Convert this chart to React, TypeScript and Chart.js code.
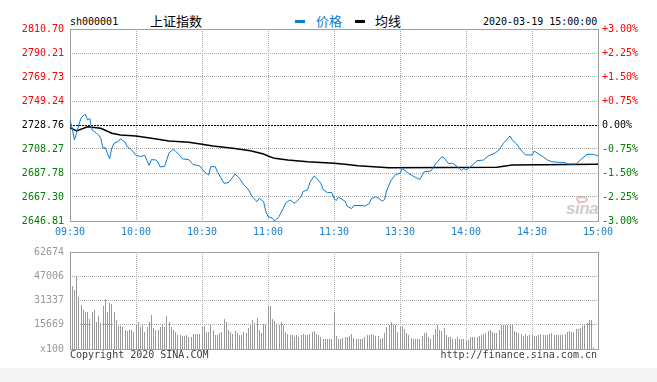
import React, { useEffect, useRef } from 'react';
import { Chart, registerables } from 'chart.js';

Chart.register(...registerables);

// ---------- data ----------
const PREV_CLOSE = 2728.76;
const priceTickValues = [2646.81, 2667.3, 2687.78, 2708.27, 2728.76, 2749.24, 2769.73, 2790.21, 2810.7];
const pctTickLabels = ['-3.00%', '-2.25%', '-1.50%', '-0.75%', '0.00%', '+0.75%', '+1.50%', '+2.25%', '+3.00%'];
const timeTickMinutes = [0, 30, 60, 90, 120, 150, 180, 210, 240];
const timeLabels = ['09:30', '10:00', '10:30', '11:00', '11:30', '13:30', '14:00', '14:30', '15:00'];
const volTickValues = [0, 15669, 31337, 47006, 62674];
const volTickLabels = ['x100', '15669', '31337', '47006', '62674'];

// price line: minute index (0 = 09:30, 120 = 11:30/13:00, 240 = 15:00) and price
const priceMinutes = [
  0, 1, 2, 3, 4, 5, 6, 7, 8, 9, 10, 11, 12, 13, 14, 15, 16, 17, 18, 19, 20, 22, 23, 25, 26, 28, 30, 32, 34, 35,
  36, 37, 39, 40, 41, 43, 44, 45, 47, 48, 50, 51, 54, 56, 58, 59, 61, 63, 64, 66, 67, 70, 72, 73, 75, 77, 79, 81,
  83, 85, 86, 88, 89, 90, 92, 93, 95, 97, 98, 100, 102, 103, 105, 106, 108, 109, 111, 112, 114, 115, 117, 119,
  120, 121, 122, 125, 126, 128, 129, 133, 134, 136, 137, 139, 140, 142, 143, 144, 146, 148, 150, 151, 153, 154,
  156, 159, 161, 164, 166, 169, 170, 172, 174, 176, 178, 179, 180, 183, 185, 188, 190, 193, 195, 197, 198, 200,
  201, 203, 205, 207, 210, 211, 213, 215, 217, 219, 222, 225, 226, 230, 232, 235, 238, 240,
];
const prices = [
  2733.0, 2726.0, 2716.0, 2721.7, 2728.8, 2734.5, 2736.7, 2737.9, 2733.0, 2734.5, 2724.5, 2723.1, 2721.7, 2720.3,
  2717.4, 2709.0, 2709.5, 2704.7, 2699.9, 2709.0, 2713.2, 2714.7, 2716.9, 2714.1, 2710.3, 2707.6, 2702.8, 2701.9,
  2702.8, 2698.3, 2694.3, 2699.2, 2698.9, 2697.2, 2692.9, 2693.5, 2699.2, 2704.9, 2708.2, 2706.2, 2702.8, 2699.9,
  2699.2, 2694.9, 2694.3, 2693.8, 2688.9, 2686.1, 2693.2, 2693.2, 2688.9, 2679.0, 2679.5, 2681.8, 2686.9, 2683.3,
  2677.6, 2673.9, 2667.1, 2663.4, 2666.3, 2663.4, 2654.9, 2650.6, 2649.2, 2646.8, 2650.6, 2657.7, 2662.0, 2664.8,
  2662.0, 2663.4, 2667.7, 2672.0, 2673.4, 2679.6, 2685.4, 2683.4, 2679.1, 2673.9, 2671.1, 2671.1, 2666.2, 2664.2,
  2667.1, 2663.7, 2659.4, 2657.4, 2660.0, 2660.0, 2659.4, 2661.7, 2666.0, 2667.4, 2666.6, 2663.7, 2665.2, 2673.2,
  2681.7, 2686.6, 2687.4, 2691.7, 2688.9, 2687.4, 2685.1, 2682.3, 2688.9, 2689.4, 2695.1, 2701.6, 2700.8, 2696.0,
  2696.0, 2693.2, 2689.8, 2691.8, 2690.3, 2694.6, 2698.2, 2698.9, 2702.3, 2704.6, 2707.4, 2713.2, 2715.1, 2719.4,
  2716.0, 2712.6, 2707.4, 2703.2, 2703.2, 2706.6, 2704.0, 2701.8, 2698.9, 2697.4, 2696.9, 2696.6, 2695.5, 2695.5,
  2698.9, 2703.7, 2703.7, 2702.3,
];

// average price line
const avgMinutes = [0, 3, 8, 14, 19, 23, 30, 37, 45, 54, 60, 65, 74, 82, 88, 90, 93, 99, 108, 120, 125, 131, 138, 145, 194, 201, 240];
const avgPrices = [
  2726.5, 2723.6, 2727.3, 2726.0, 2721.7, 2720.2, 2719.4, 2717.4, 2715.1, 2714.0, 2712.3, 2710.8, 2708.9, 2706.8,
  2704.0, 2702.3, 2700.3, 2698.9, 2697.4, 2696.1, 2695.2, 2694.0, 2693.2, 2692.3, 2692.7, 2694.6, 2695.2,
];

// volume per minute (x100), 241 minutes
const volumes = [
  62674, 40740, 38440, 46800, 33840, 28620, 25070, 23820, 23820, 19640, 23820, 25070, 17550, 21310, 16710, 27570,
  32380, 23820, 29450, 28830, 23820, 18800, 15040, 15040, 14410, 12530, 11910, 12530, 12530, 11280, 15670, 17130,
  14410, 15460, 11280, 14000, 17130, 21930, 13370, 12530, 12530, 14000, 16090, 14000, 21310, 17550, 14000, 12530,
  11280, 8770, 9190, 8360, 8360, 8770, 7520, 7520, 9820, 9400, 9400, 9400, 14000, 14620, 11280, 11280, 15460,
  12530, 9190, 8770, 10450, 11280, 19640, 17550, 12530, 11280, 9400, 11910, 10240, 8770, 9190, 11280, 10450,
  13370, 15670, 18800, 16500, 20050, 12530, 10450, 16290, 15670, 27990, 27570, 19640, 18170, 16090, 15460, 17130,
  15460, 11280, 9820, 9190, 8770, 7730, 8770, 7730, 8770, 9820, 9190, 9190, 9820, 11280, 11910, 9820, 8770, 7730,
  6270, 6270, 6680, 6270, 6270, 23400, 8150, 6270, 6680, 7310, 7730, 7730, 8360, 9400, 7310, 6680, 6680, 6680,
  6680, 7730, 8770, 8770, 9400, 8770, 8150, 8150, 6270, 7100, 10450, 14410, 15670, 17550, 15670, 15670, 11280,
  14000, 14620, 12950, 10240, 8770, 7310, 6680, 6680, 6680, 6680, 8360, 10030, 10030, 7520, 6270, 9190, 12950,
  15460, 12530, 11910, 13370, 9190, 7730, 7730, 6270, 6680, 7520, 6270, 6680, 6270, 5850, 5640, 7520, 7940, 7520,
  7520, 8360, 8770, 9400, 10450, 11700, 12530, 11280, 10450, 10450, 12530, 15460, 15460, 15460, 15460, 15460,
  15460, 11910, 11280, 10240, 9820, 8360, 9610, 8150, 9190, 8770, 8360, 8360, 8770, 8770, 9190, 8770, 8770, 9400,
  10450, 8770, 9190, 8770, 8770, 9190, 9610, 10860, 11910, 10860, 11280, 12950, 12950, 13370, 14620, 15460, 16500,
  18800, 18800, 1460, 0, 0,
];

// ---------- styles ----------
const MONO = "'DejaVu Sans Mono', monospace";
const CJK = "'Noto Sans CJK SC', sans-serif";
const BLUE = '#0a7bd1';
const TIME_BLUE = '#1a80d0';
const RED = '#ff0000';
const GREEN = '#008000';
const GRID = '#aaaaaa';
const FRAME = '#a0a0a0';
const VOL_GRAY = '#999999';

const framePlugin = {
  id: 'frame',
  beforeDatasetsDraw(chart: any) {
    const { ctx, chartArea: a } = chart;
    ctx.save();
    ctx.strokeStyle = FRAME;
    ctx.lineWidth = 1;
    ctx.setLineDash([]);
    ctx.strokeRect(
      Math.round(a.left) + 0.5,
      Math.round(a.top) + 0.5,
      Math.round(a.right - a.left),
      Math.round(a.bottom - a.top)
    );
    ctx.restore();
  },
};

const prevClosePlugin = {
  id: 'prevClose',
  beforeDatasetsDraw(chart: any) {
    const { ctx, chartArea: a } = chart;
    const y = Math.round(chart.scales.y.getPixelForValue(PREV_CLOSE)) + 0.5;
    ctx.save();
    ctx.strokeStyle = '#000';
    ctx.lineWidth = 1;
    ctx.setLineDash([2, 1]);
    ctx.beginPath();
    ctx.moveTo(a.left, y);
    ctx.lineTo(a.right, y);
    ctx.stroke();
    ctx.restore();
  },
};

// snap 1px volume bars onto whole pixels so they render crisp
const crispBarsPlugin = {
  id: 'crispBars',
  afterDatasetsUpdate(chart: any) {
    chart.getDatasetMeta(0).data.forEach((el: any) => {
      el.x = Math.floor(el.x) + 0.5;
      el.y = Math.round(el.y);
      el.base = Math.round(el.base);
    });
  },
};

const levelColor = (v: number) =>
  Math.abs(v - PREV_CLOSE) < 0.005 ? '#000' : v > PREV_CLOSE ? RED : GREEN;

export default function App() {
  const priceRef = useRef<HTMLCanvasElement>(null);
  const volRef = useRef<HTMLCanvasElement>(null);

  useEffect(() => {
    const font = { family: MONO, size: 10 };
    const priceChart = new Chart(priceRef.current as HTMLCanvasElement, {
      type: 'line',
      data: {
        datasets: [
          {
            label: '价格',
            data: priceMinutes.map((m, i) => ({ x: m, y: prices[i] })),
            borderColor: BLUE,
            borderWidth: 1,
            pointRadius: 0,
            tension: 0,
            fill: false,
          },
          {
            label: '均线',
            data: avgMinutes.map((m, i) => ({ x: m, y: avgPrices[i] })),
            borderColor: '#000',
            borderWidth: 1.5,
            pointRadius: 0,
            tension: 0,
            fill: false,
          },
        ],
      },
      options: {
        animation: false,
        responsive: false,
        events: [],
        layout: { padding: { top: 29, left: 0, right: 0, bottom: 0 } },
        plugins: { legend: { display: false }, tooltip: { enabled: false } },
        scales: {
          x: {
            type: 'linear',
            min: 0,
            max: 240,
            afterBuildTicks: (s: any) => {
              s.ticks = timeTickMinutes.map((v) => ({ value: v }));
            },
            afterFit: (s: any) => {
              s.height = 24;
            },
            ticks: {
              autoSkip: false,
              maxRotation: 0,
              padding: 5,
              color: TIME_BLUE,
              font,
              callback: (_v: any, i: number) => timeLabels[i],
            },
            grid: { color: GRID, drawTicks: false, lineWidth: 1 },
            border: { display: false, dash: [1, 1] },
          },
          y: {
            type: 'linear',
            position: 'left',
            min: priceTickValues[0],
            max: priceTickValues[priceTickValues.length - 1],
            afterBuildTicks: (s: any) => {
              s.ticks = priceTickValues.map((v) => ({ value: v }));
            },
            afterFit: (s: any) => {
              s.width = 70;
            },
            ticks: {
              padding: 6,
              font,
              color: (ctx: any) => levelColor(ctx.tick.value),
              callback: (v: any) => Number(v).toFixed(2),
            },
            grid: {
              drawTicks: false,
              lineWidth: 1,
              color: (ctx: any) =>
                ctx.tick && Math.abs(ctx.tick.value - PREV_CLOSE) < 0.005 ? 'rgba(0,0,0,0)' : GRID,
            },
            border: { display: false, dash: [1, 1] },
          },
          yr: {
            type: 'linear',
            position: 'right',
            min: priceTickValues[0],
            max: priceTickValues[priceTickValues.length - 1],
            afterBuildTicks: (s: any) => {
              s.ticks = priceTickValues.map((v) => ({ value: v }));
            },
            afterFit: (s: any) => {
              s.width = 59;
            },
            ticks: {
              padding: 4,
              font,
              color: (ctx: any) => levelColor(ctx.tick.value),
              callback: (_v: any, i: number) => pctTickLabels[i],
            },
            grid: { display: false, drawTicks: false },
            border: { display: false },
          },
        },
      } as any,
      plugins: [framePlugin, prevClosePlugin],
    });

    const volChart = new Chart(volRef.current as HTMLCanvasElement, {
      type: 'bar',
      data: {
        datasets: [
          {
            label: '成交量',
            data: volumes.map((v, i) => ({ x: i, y: v })),
            backgroundColor: VOL_GRAY,
            borderWidth: 0,
            barThickness: 1,
            inflateAmount: 0,
          } as any,
        ],
      },
      options: {
        animation: false,
        responsive: false,
        events: [],
        layout: { padding: { top: 9, left: 0, right: 59, bottom: 19 } },
        plugins: { legend: { display: false }, tooltip: { enabled: false } },
        scales: {
          x: {
            type: 'linear',
            min: 0,
            max: 240,
            offset: false,
            afterBuildTicks: (s: any) => {
              s.ticks = timeTickMinutes.map((v) => ({ value: v }));
            },
            afterFit: (s: any) => {
              s.height = 0;
            },
            ticks: { display: false },
            grid: { color: GRID, drawTicks: false, offset: false, lineWidth: 1 },
            border: { display: false, dash: [1, 1] },
          },
          y: {
            type: 'linear',
            min: 0,
            max: volTickValues[volTickValues.length - 1],
            afterBuildTicks: (s: any) => {
              s.ticks = volTickValues.map((v) => ({ value: v }));
            },
            afterFit: (s: any) => {
              s.width = 70;
            },
            ticks: {
              padding: 6,
              font,
              color: VOL_GRAY,
              callback: (_v: any, i: number) => volTickLabels[i],
            },
            grid: { color: GRID, drawTicks: false, lineWidth: 1 },
            border: { display: false, dash: [1, 1] },
          },
        },
      } as any,
      plugins: [framePlugin, crispBarsPlugin],
    });

    return () => {
      priceChart.destroy();
      volChart.destroy();
    };
  }, []);

  const abs = (extra: React.CSSProperties): React.CSSProperties => ({
    position: 'absolute',
    whiteSpace: 'nowrap',
    margin: 0,
    ...extra,
  });

  return (
    <div
      style={{
        position: 'fixed',
        left: 0,
        top: 0,
        width: 657,
        height: 382,
        background: '#ffffff',
        overflow: 'hidden',
      }}
    >
      {/* header */}
      <div style={abs({ left: 70, top: 16, font: `10px ${MONO}`, lineHeight: '12px', color: '#000' })}>sh000001</div>
      <div style={abs({ left: 150, top: 13, font: `13px ${CJK}`, lineHeight: '16px', color: '#000' })}>上证指数</div>
      <div style={abs({ left: 295, top: 20, width: 10, height: 3, background: BLUE })} />
      <div style={abs({ left: 316, top: 13, font: `13px ${CJK}`, lineHeight: '16px', color: BLUE })}>价格</div>
      <div style={abs({ left: 355, top: 20, width: 10, height: 3, background: '#000' })} />
      <div style={abs({ left: 375, top: 13, font: `13px ${CJK}`, lineHeight: '16px', color: '#000' })}>均线</div>
      <div style={abs({ left: 483, top: 16, font: `10px ${MONO}`, lineHeight: '12px', color: '#000' })}>
        2020-03-19 15:00:00
      </div>

      {/* watermark */}
      <div
        style={abs({
          left: 566,
          top: 200,
          font: `italic bold 17px 'Liberation Sans', sans-serif`,
          lineHeight: '18px',
          color: '#cfcfcf',
          letterSpacing: '-0.5px',
        })}
      >
        sina
      </div>
      <div
        style={abs({
          left: 576,
          top: 196,
          width: 12,
          height: 7,
          borderRadius: '50%',
          border: '2px solid #f4b8b8',
          boxSizing: 'border-box',
        })}
      />

      <canvas
        ref={priceRef}
        width={657}
        height={245}
        style={{ position: 'absolute', left: 0, top: 0, display: 'block' }}
      />
      <canvas
        ref={volRef}
        width={657}
        height={128}
        style={{ position: 'absolute', left: 0, top: 240, display: 'block' }}
      />

      {/* footer */}
      <div style={abs({ left: 70, top: 349, font: `10px ${MONO}`, lineHeight: '12px', color: '#404040' })}>
        Copyright 2020 SINA.COM
      </div>
      <div
        style={abs({
          right: 657 - 597,
          top: 349,
          font: `10px ${MONO}`,
          lineHeight: '12px',
          color: '#404040',
          textAlign: 'right',
        })}
      >
        http://finance.sina.com.cn
      </div>
      <div style={abs({ left: 0, top: 368, width: 657, height: 14, background: '#f4f4f4' })} />
    </div>
  );
}
